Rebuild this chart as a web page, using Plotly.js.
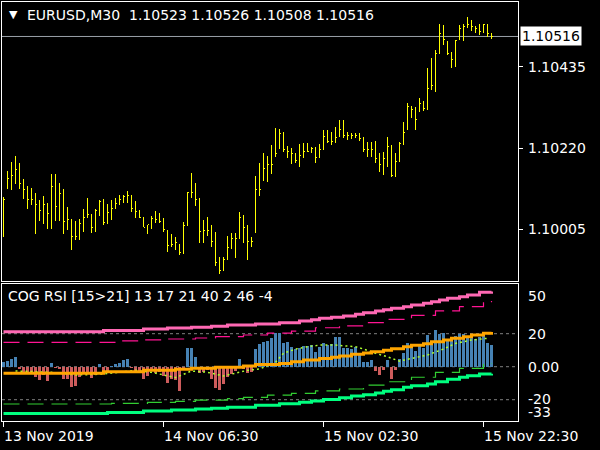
<!DOCTYPE html>
<html><head><meta charset="utf-8">
<script src="https://cdn.plot.ly/plotly-3.0.1.min.js"></script>
<style>html,body{margin:0;padding:0;background:#000;}#chart{width:600px;height:450px;}
#chart .ohlclayer path, #chart .trace.ohlc path{shape-rendering:crispEdges;}
#chart .barlayer path{shape-rendering:crispEdges;}</style>
</head><body><div id="chart"></div>
<script>
// ---- price bars (EURUSD M30), index 0 = 13 Nov 10:30 ----
const opens = [1.10085,1.10112,1.10140,1.10148,1.10162,1.10126,1.10109,1.10084,1.10084,1.10071,
1.10055,1.10071,1.10045,1.10119,1.10064,1.10098,1.10026,1.10029,1.09986,1.09986,
1.10020,1.10036,1.10044,1.10010,1.10053,1.10077,1.10023,1.10049,1.10060,1.10073,
1.10082,1.10091,1.10093,1.10060,1.10051,1.10036,1.10010,1.10016,1.10032,1.10031,
1.10026,1.10000,1.09961,1.09963,1.09962,1.09943,1.10014,1.10102,1.10102,1.10082,
1.09998,1.10002,1.10002,1.09973,1.09917,1.09896,1.09925,1.09957,1.09980,1.09980,
1.10036,1.10010,1.09971,1.09996,1.10109,1.10134,1.10166,1.10175,1.10199,1.10219,
1.10259,1.10215,1.10210,1.10206,1.10188,1.10201,1.10210,1.10210,1.10219,1.10195,
1.10217,1.10250,1.10237,1.10237,1.10252,1.10268,1.10252,1.10252,1.10254,1.10254,
1.10246,1.10215,1.10215,1.10215,1.10193,1.10175,1.10193,1.10223,1.10148,1.10184,
1.10232,1.10270,1.10330,1.10321,1.10318,1.10339,1.10325,1.10379,1.10387,1.10471,
1.10523,1.10503,1.10471,1.10455,1.10509,1.10538,1.10542,1.10547,1.10542,1.10538,
1.10529,1.10547,1.10523];
const highs = [1.10089,1.10159,1.10183,1.10200,1.10180,1.10137,1.10119,1.10113,1.10101,1.10082,
1.10093,1.10073,1.10152,1.10152,1.10126,1.10110,1.10063,1.10029,1.10026,1.10031,
1.10058,1.10087,1.10046,1.10057,1.10081,1.10084,1.10071,1.10082,1.10088,1.10095,
1.10095,1.10107,1.10093,1.10080,1.10055,1.10038,1.10016,1.10040,1.10054,1.10047,
1.10035,1.10002,1.09992,1.09985,1.09964,1.10023,1.10104,1.10154,1.10128,1.10087,
1.10029,1.10036,1.10016,1.09996,1.09932,1.09932,1.09986,1.09995,1.09995,1.10049,
1.10042,1.10016,1.09985,1.10147,1.10179,1.10206,1.10199,1.10228,1.10272,1.10270,
1.10263,1.10225,1.10219,1.10208,1.10231,1.10232,1.10232,1.10222,1.10223,1.10231,
1.10268,1.10268,1.10263,1.10275,1.10294,1.10294,1.10263,1.10261,1.10259,1.10259,
1.10250,1.10237,1.10237,1.10239,1.10206,1.10210,1.10250,1.10228,1.10208,1.10237,
1.10290,1.10339,1.10330,1.10330,1.10352,1.10346,1.10432,1.10458,1.10480,1.10549,
1.10547,1.10505,1.10476,1.10507,1.10547,1.10549,1.10569,1.10560,1.10544,1.10549,
1.10549,1.10549,1.10526];
const lows = [1.09985,1.10110,1.10109,1.10124,1.10110,1.10084,1.10059,1.10068,1.09993,1.10027,
1.10018,1.10006,1.10006,1.10026,1.10026,1.09993,1.10002,1.09949,1.09976,1.09975,
1.09996,1.10033,1.09995,1.09996,1.10039,1.10016,1.10018,1.10029,1.10060,1.10069,
1.10073,1.10073,1.10051,1.10035,1.10033,1.10010,1.09993,1.10004,1.10022,1.10022,
1.09998,1.09944,1.09957,1.09949,1.09936,1.09939,1.10014,1.10087,1.10066,1.09969,
1.09969,1.09986,1.09957,1.09908,1.09886,1.09894,1.09923,1.09951,1.09929,1.09978,
1.09967,1.09923,1.09957,1.09994,1.10093,1.10132,1.10131,1.10151,1.10197,1.10217,
1.10210,1.10193,1.10178,1.10179,1.10170,1.10193,1.10210,1.10206,1.10181,1.10193,
1.10215,1.10232,1.10228,1.10234,1.10250,1.10246,1.10241,1.10243,1.10246,1.10239,
1.10210,1.10197,1.10197,1.10179,1.10157,1.10148,1.10170,1.10144,1.10144,1.10184,
1.10228,1.10268,1.10299,1.10268,1.10316,1.10319,1.10321,1.10374,1.10369,1.10471,
1.10493,1.10467,1.10432,1.10436,1.10507,1.10505,1.10538,1.10531,1.10524,1.10520,
1.10524,1.10515,1.10508];
const closes = [1.10082,1.10140,1.10148,1.10162,1.10126,1.10109,1.10084,1.10084,1.10071,1.10055,
1.10071,1.10045,1.10119,1.10064,1.10098,1.10026,1.10029,1.09986,1.09986,1.10020,
1.10036,1.10044,1.10010,1.10053,1.10077,1.10023,1.10049,1.10060,1.10073,1.10082,
1.10091,1.10093,1.10060,1.10051,1.10036,1.10010,1.10016,1.10032,1.10031,1.10026,
1.10004,1.09961,1.09963,1.09970,1.09943,1.10014,1.10102,1.10102,1.10082,1.09998,
1.10002,1.10002,1.09973,1.09917,1.09896,1.09925,1.09957,1.09980,1.09980,1.10036,
1.10010,1.09971,1.09971,1.10109,1.10109,1.10166,1.10175,1.10175,1.10206,1.10259,
1.10215,1.10210,1.10206,1.10188,1.10201,1.10210,1.10210,1.10219,1.10195,1.10217,
1.10250,1.10237,1.10237,1.10248,1.10268,1.10252,1.10252,1.10254,1.10254,1.10246,
1.10215,1.10215,1.10215,1.10193,1.10175,1.10193,1.10223,1.10148,1.10184,1.10232,
1.10261,1.10330,1.10321,1.10296,1.10339,1.10325,1.10379,1.10387,1.10471,1.10523,
1.10507,1.10471,1.10455,1.10505,1.10538,1.10542,1.10547,1.10542,1.10538,1.10529,
1.10547,1.10524,1.10516];
const lastPrice = 1.10516;
const priceTicks = [1.10005, 1.10220, 1.10435];
const priceTickText = ["1.10005", "1.10220", "1.10435"];

// ---- COG RSI indicator ----
const histogram = [2.6,3.6,4.8,5.9,-1.6,-3,-4,-4.6,-6,-8,
-5,-8.7,2,-1,-1.6,-7.7,-7.7,-12,-11.7,-6,
-4,-3,-7,-5,1.4,-4.6,-2.4,0.6,1.6,2.4,
4,4.6,-1,-2.4,-4,-7.5,-5.7,-2.4,-4,-3,
-5.7,-9.7,-7.7,-8,-14.7,-1.6,11.5,11.1,6,-4,
-3,-2,-7.7,-13.1,-14.1,-10.7,-6,-4.6,-2.4,4.4,
-1.6,-3.6,-3.4,10.7,13.5,15.2,15.6,17.6,20.2,20.6,
14.1,14.7,12.1,10.5,11.5,12.5,12.5,13.1,9.1,12.1,
14.1,13.1,13.7,18.2,18.2,11.1,11.5,10.5,12.1,8.5,
3,3,4,-2.6,-5,-2,4,-7.5,-2,4.6,
8.1,14.1,11.5,9.5,13.1,11.5,19.2,13.5,22.4,19.6,
20.6,16.2,16.2,18.8,19.6,19.6,18.8,17.6,16.8,18.2,
19.6,14.1,13.1];

const signalX = [3,12,18,24,29,33,37,43,47,51,55,59,61,64,68,70,73,76,79,83,88,90,93,96,99,102,106,110,113,117,121];
const signalY = [-2.6,-3.4,-5,-4.6,-3.4,-2.2,-3.4,-6.6,-2.6,-3.4,-5.6,-3.4,-2.2,-1.4,2.6,8.1,10.7,12.1,13.1,13.1,12.1,10.7,8.1,6,3.4,5,7.1,10.7,14.1,16.2,17.2];

const cogX = [0,25,35,43,47,53,60,63,69,72,75,79,82,84,87,90,92,95,97,100,102,105,107,110,112,115,117,120,122];
const cogY = [-4,-3,-2.2,-1.6,-1,-0.4,0.4,1.4,2,3,4,4.9,5.7,6.5,7.5,8.3,9.1,9.9,10.9,12.1,13,13.9,15.2,16.2,17.2,18.2,19.2,20.2,21];

const upperX = [0,25,35,41,47,52,56,63,69,74,77,79,82,85,88,90,93,95,97,100,102,105,107,109,111,114,116,119,122];
const upperY = [21.2,22.0,22.8,23.5,23.9,24.5,25.3,25.9,26.7,27.7,28.5,29.3,29.9,30.7,31.8,32.7,33.8,34.5,35.4,36.4,37.4,38.4,39.4,40.4,41.5,42.4,43.5,45.1,45.6];

const upperInX = [0,29,34,41,48,53,60,66,72,78,84,90,96,102,108,114,120,122];
const upperInY = [14.8,15.6,16.2,16.8,17.4,18.2,19.2,20.4,21.6,23.6,24.7,26.7,28.7,31.1,33.8,36.4,39.4,39.8];

const lowerInX = [0,27,36,43,48,56,60,66,72,78,84,90,96,102,108,114,120,122];
const lowerInY = [-22.6,-22.2,-21.6,-21,-20.2,-19.4,-18.6,-17.2,-16.1,-14.7,-13.5,-11.1,-9.1,-6.4,-3.4,-1,1.5,2];

const lowerX = [0,26,35,42,48,52,56,63,69,74,77,80,84,87,90,93,95,97,100,102,106,108,111,114,116,119,122];
const lowerY = [-28.3,-27.7,-26.9,-26.3,-25.7,-25.1,-24.5,-23.4,-22.4,-21.6,-20.8,-19.8,-18.8,-17.8,-17,-15.9,-14.9,-13.9,-12.5,-11.5,-10.5,-9.1,-7.6,-6.4,-5.5,-4.4,-4.2];

const levels = [20, 0, -20];
const levelLabels = [{v:42.8,t:"50"},{v:20,t:"20"},{v:0,t:"0.00"},{v:-19.4,t:"-20"},{v:-27.6,t:"-33"}];

const timeTickIdx = [0, 40, 80, 120];
const timeTickText = ["13 Nov 2019", "14 Nov 06:30", "15 Nov 02:30", "15 Nov 22:30"];

const titleText = "EURUSD,M30  1.10523 1.10526 1.10508 1.10516";
const subTitleText = "COG RSI [15>21] 13 17 21 40 2 46 -4";

// ---- build ----
const idx = closes.map((_, i) => i);
const FONT = "DejaVu Sans";
const W = 600, H = 450, ML = 2, MR = 82, MT = 2, MB = 29;
const pw = W - ML - MR, ph = H - MT - MB;
const px = x => (x - ML) / pw;
const py = y => (H - MB - y) / ph;

const traces = [
  {type:'ohlc', x: idx, open: opens, high: highs, low: lows, close: closes,
   xaxis:'x2', yaxis:'y', tickwidth:0.25, opacity:1,
   increasing:{line:{color:'#ffff00', width:1}}, decreasing:{line:{color:'#ffff00', width:1}},
   hoverinfo:'skip'},
  {type:'bar', x: idx, y: histogram, xaxis:'x', yaxis:'y2', width:0.75,
   marker:{color: histogram.map(v => v >= 0 ? '#4682b4' : '#cd5c5c'), line:{width:0}}},
  {type:'scatter', mode:'lines', x: signalX, y: signalY, xaxis:'x', yaxis:'y2',
   line:{color:'#adff2f', width:1.5, dash:'2px,3px'}},
  {type:'scatter', mode:'lines', x: upperInX, y: upperInY, xaxis:'x', yaxis:'y2',
   line:{color:'#ff1493', width:1.2, dash:'16px,8px', shape:'hv'}},
  {type:'scatter', mode:'lines', x: lowerInX, y: lowerInY, xaxis:'x', yaxis:'y2',
   line:{color:'#32cd32', width:1.2, dash:'16px,8px', shape:'hv'}},
  {type:'scatter', mode:'lines', x: cogX, y: cogY, xaxis:'x', yaxis:'y2',
   line:{color:'#ffa500', width:3, shape:'hv'}},
  {type:'scatter', mode:'lines', x: upperX, y: upperY, xaxis:'x', yaxis:'y2',
   line:{color:'#ff69b4', width:3, shape:'hv'}},
  {type:'scatter', mode:'lines', x: lowerX, y: lowerY, xaxis:'x', yaxis:'y2',
   line:{color:'#00ff7f', width:3, shape:'hv'}}
];

const xr = [-0.375, -0.375 + pw / 4];
const annotations = [
  {xref:'paper', yref:'paper', x: px(7), y: py(14), text:'▼', showarrow:false, xanchor:'left', yanchor:'middle',
   font:{family:FONT, size:11, color:'#ffffff'}},
  {xref:'paper', yref:'paper', x: px(25), y: py(15), text: titleText, showarrow:false, xanchor:'left', yanchor:'middle',
   font:{family:FONT, size:14, color:'#ffffff'}},
  {xref:'paper', yref:'paper', x: px(6), y: py(296), text: subTitleText, showarrow:false, xanchor:'left', yanchor:'middle',
   font:{family:FONT, size:14, color:'#ffffff'}},
  {xref:'paper', yref:'y', x: px(520), y: lastPrice, text: '1.10516', showarrow:false, xanchor:'left', yanchor:'middle',
   bgcolor:'#ffffff', borderpad:1, font:{family:FONT, size:14, color:'#000000'}}
];
priceTicks.forEach((v, i) => annotations.push({xref:'paper', yref:'y', x: px(526), y: v, text: priceTickText[i],
  showarrow:false, xanchor:'left', yanchor:'middle', font:{family:FONT, size:14, color:'#ffffff'}}));
levelLabels.forEach(l => annotations.push({xref:'paper', yref:'y2', x: px(526), y: l.v, text: l.t,
  showarrow:false, xanchor:'left', yanchor:'middle', font:{family:FONT, size:14, color:'#ffffff'}}));
timeTickIdx.forEach((t, i) => annotations.push({xref:'x', yref:'paper', x: t, y: py(436), text: timeTickText[i],
  showarrow:false, xanchor:'left', yanchor:'middle', xshift:-2, font:{family:FONT, size:14, color:'#ffffff'}}));

const shapes = levels.map(v => ({type:'line', xref:'paper', yref:'y2', x0:0, x1:1, y0:v, y1:v, layer:'below',
  line:{color:'#808080', width:1, dash:'3px,3px'}}));
shapes.push({type:'line', xref:'paper', yref:'y', x0:0, x1:1, y0:lastPrice, y1:lastPrice, layer:'below',
  line:{color:'#9aa0a8', width:1}});

const axBase = {showgrid:false, zeroline:false, showline:true, mirror:true, linecolor:'#ffffff', linewidth:1, fixedrange:true};
const layout = {
  width: W, height: H, margin:{l:ML, r:MR, t:MT, b:MB},
  paper_bgcolor:'#000000', plot_bgcolor:'#000000', showlegend:false, bargap:0,
  xaxis: Object.assign({}, axBase, {domain:[0,1], anchor:'y2', range: xr, tickmode:'array', tickvals: timeTickIdx,
    ticks:'outside', ticklen:5, tickcolor:'#ffffff', showticklabels:false}),
  xaxis2: Object.assign({}, axBase, {domain:[0,1], anchor:'y', range: xr, matches:'x', showticklabels:false,
    ticks:'', rangeslider:{visible:false}}),
  yaxis: Object.assign({}, axBase, {domain:[py(281), 1], anchor:'x2', side:'right', range:[1.09867, 1.106075],
    tickmode:'array', tickvals: priceTicks, ticks:'outside', ticklen:4, tickcolor:'#ffffff', showticklabels:false}),
  yaxis2: Object.assign({}, axBase, {domain:[0, py(284)], anchor:'x', side:'right', range:[-32.9, 50.12],
    ticks:'', showticklabels:false}),
  annotations: annotations, shapes: shapes
};
Plotly.newPlot('chart', traces, layout, {staticPlot:true, displayModeBar:false}).then(gd => {
  gd.querySelectorAll('.ohlclayer path, .trace.ohlc path').forEach(p => {
    p.style.strokeOpacity = '1';
    p.style.opacity = '1';
  });
});
</script></body></html>
